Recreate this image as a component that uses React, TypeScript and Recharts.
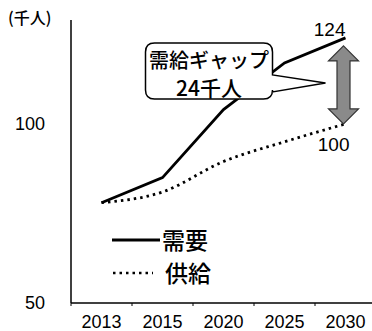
import React from 'react';
import { LineChart, Line, XAxis, YAxis, Legend, LabelList, ReferenceLine } from 'recharts';

const years = ['2013', '2015', '2020', '2025', '2030'];
const demand = [78, 85, 104, 117, 124];
const supply = [78, 81, 89.5, 95, 100];
const yTicks = [50, 100];

const data = years.map((year, i) => ({ year, demand: demand[i], supply: supply[i] }));

const W = 376;
const H = 331;
const LEFT = 71;
const BAND = (W - LEFT) / years.length;
const NUM_FONT = '"Liberation Sans", Arial, sans-serif';
const JP_FONT = '"Noto Sans CJK JP", "Noto Sans", sans-serif';

const XTick = (props: any) => {
    const { x, y, payload } = props;
    return (
        <g>
            <line x1={x - BAND / 2} x2={x - BAND / 2} y1={y} y2={y + 3} stroke="#000" />
            <text x={x} y={y + 25} textAnchor="middle" fontSize={18} fontFamily={NUM_FONT} fill="#000">
                {payload.value}
            </text>
        </g>
    );
};

const EndLabel = (above: boolean) => (props: any) => {
    const { x, y, value, index } = props;
    if (index !== years.length - 1) return null;
    return (
        <text
            x={above ? x : x + 4}
            y={above ? y - 2 : y + 27}
            textAnchor="end"
            fontSize={19}
            fontFamily={NUM_FONT}
            fill="#000"
        >
            {value}
        </text>
    );
};

// gap arrow plus the callout box
const GapShape = (props: any) => {
    const { x1, y1, y2 } = props;
    const cx = x1 - 2;
    const top = Math.min(y1, y2) + 8;
    const bot = Math.max(y1, y2);
    const hw = 15, sw = 6.5, hh = 15;
    const arrow = [
        [cx, top], [cx + hw, top + hh], [cx + sw, top + hh], [cx + sw, bot - hh], [cx + hw, bot - hh],
        [cx, bot], [cx - hw, bot - hh], [cx - sw, bot - hh], [cx - sw, top + hh], [cx - hw, top + hh],
    ].map((p) => p.join(',')).join(' ');

    const left = cx - 198, right = cx - 71, bt = top - 3, bb = bot - 25, r = 9;
    const tipX = cx - 18, tipY = bot - 41;
    const box = `M${left + r},${bt} H${right - r} Q${right},${bt} ${right},${bt + r} V${bt + 32} L${tipX},${tipY} L${right},${bt + 49} V${bb - r} Q${right},${bb} ${right - r},${bb} H${left + r} Q${left},${bb} ${left},${bb - r} V${bt + r} Q${left},${bt} ${left + r},${bt} Z`;
    const mid = (left + right) / 2;

    return (
        <g>
            <polygon points={arrow} fill="#8a8a8a" stroke="#333" strokeWidth={1.2} />
            <path d={box} fill="#fff" stroke="#000" strokeWidth={1.5} />
            <text x={mid} y={bt + 25} textAnchor="middle" fontSize={20} fontWeight={500} fontFamily={JP_FONT} fill="#000">需給ギャップ</text>
            <text x={mid} y={bt + 53} textAnchor="middle" fontSize={21} fontWeight={500} fontFamily={JP_FONT} fill="#000">24千人</text>
        </g>
    );
};

const LegendBox = () => (
    <div style={{ fontFamily: JP_FONT, fontSize: 23, fontWeight: 500, lineHeight: '33px', color: '#000' }}>
        <div style={{ display: 'flex', alignItems: 'center' }}>
            <svg width={50} height={10}><line x1={0} x2={48} y1={5} y2={5} stroke="#000" strokeWidth={3} /></svg>
            <span>需要</span>
        </div>
        <div style={{ display: 'flex', alignItems: 'center' }}>
            <svg width={53} height={10}><line x1={1} x2={41} y1={5} y2={5} stroke="#000" strokeWidth={2.5} strokeDasharray="2.5 4" /></svg>
            <span>供給</span>
        </div>
    </div>
);

export default function App() {
    return (
        <div style={{ position: 'absolute', left: 0, top: 0, width: 372, height: H, overflow: 'hidden', background: '#fff' }}>
            <span style={{ position: 'absolute', left: 8, top: 5, fontSize: 16, fontWeight: 500, fontFamily: JP_FONT, zIndex: 2 }}>(千人)</span>
            <LineChart width={W} height={H} data={data} margin={{ top: 20, right: 0, bottom: 0, left: 0 }}>
                <XAxis
                    dataKey="year"
                    scale="band"
                    height={28}
                    tickSize={0}
                    tickMargin={0}
                    tick={<XTick />}
                    axisLine={{ stroke: '#000', strokeWidth: 1.5 }}
                    interval={0}
                />
                <YAxis
                    width={LEFT}
                    domain={[50, 129]}
                    ticks={yTicks}
                    tickSize={0}
                    tickMargin={26}
                    tickLine={false}
                    tick={{ fill: '#000', fontSize: 18, fontFamily: NUM_FONT }}
                    axisLine={{ stroke: '#000', strokeWidth: 1.5 }}
                />
                <Line type="linear" dataKey="demand" stroke="#000" strokeWidth={2.8} dot={false} isAnimationActive={false}>
                    <LabelList dataKey="demand" content={EndLabel(true)} />
                </Line>
                <Line type="monotone" dataKey="supply" stroke="#000" strokeWidth={2.8} strokeDasharray="2.5 4" dot={false} isAnimationActive={false}>
                    <LabelList dataKey="supply" content={EndLabel(false)} />
                </Line>
                <ReferenceLine
                    segment={[{ x: '2030', y: demand[4] }, { x: '2030', y: supply[4] }]}
                    shape={GapShape}
                />
                <Legend
                    layout="horizontal"
                    align="center"
                    verticalAlign="middle"
                    content={<LegendBox />}
                    wrapperStyle={{ position: 'absolute', left: 112, top: 223, width: 'auto' }}
                />
            </LineChart>
        </div>
    );
}
